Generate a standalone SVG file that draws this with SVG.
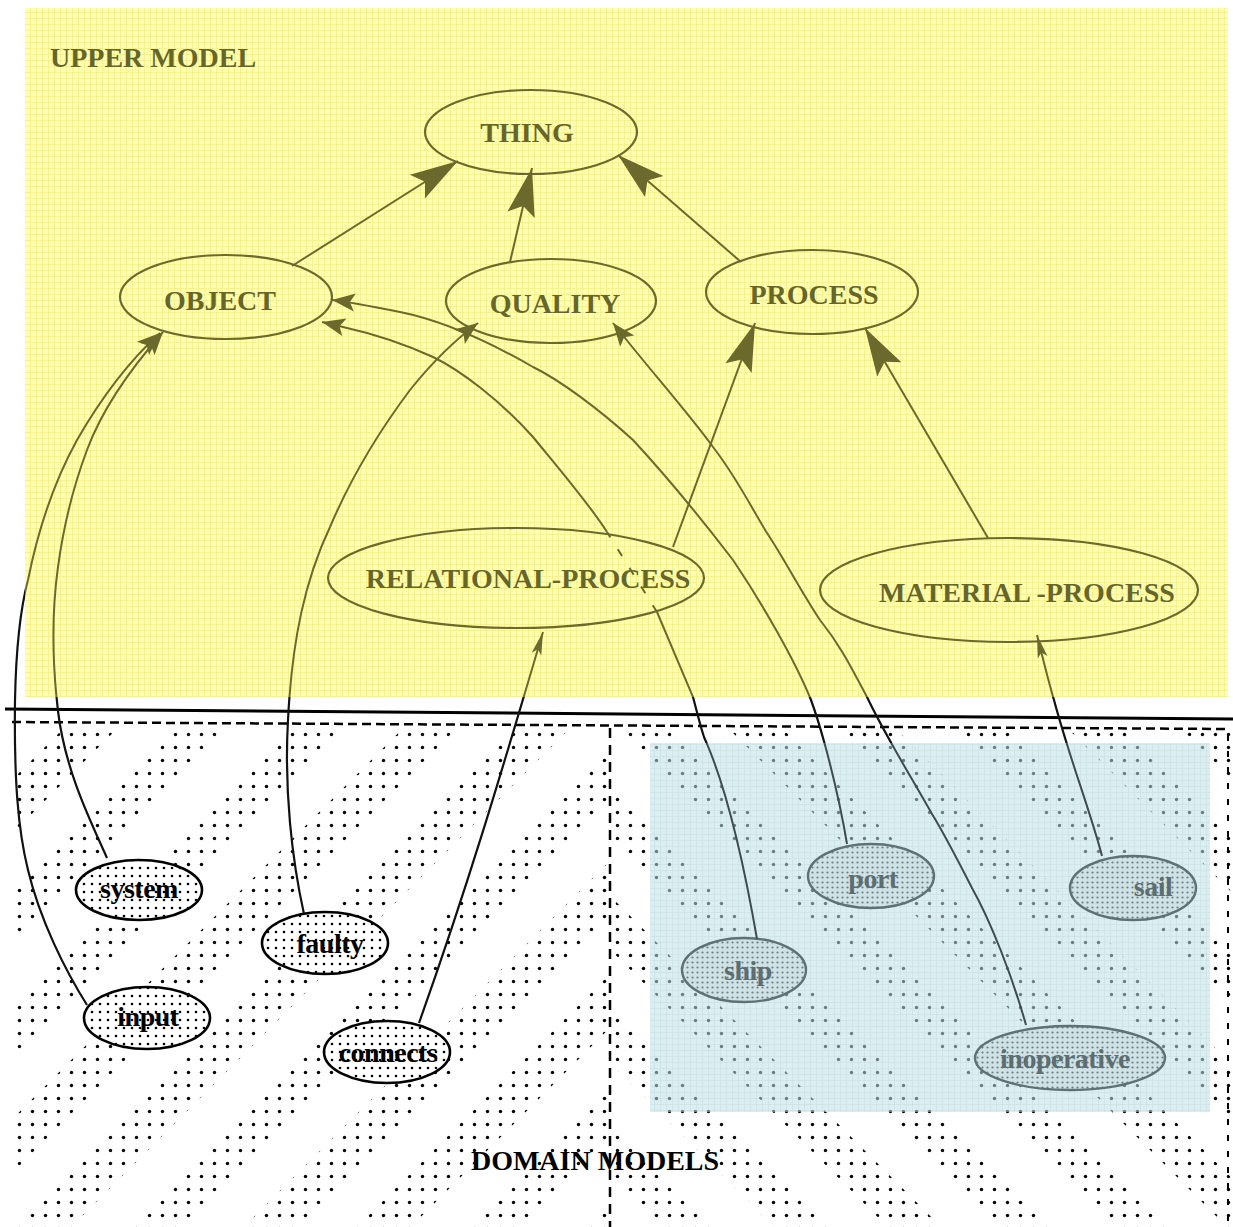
<svg xmlns="http://www.w3.org/2000/svg" xmlns:xlink="http://www.w3.org/1999/xlink" width="1233" height="1227" viewBox="0 0 1233 1227">
<style>
  .t { font-family: "Liberation Serif", "DejaVu Serif", serif; font-weight: bold; font-size: 28px; text-anchor: middle; }
  .up { fill: #66662a; }
  .lo { fill: #000; letter-spacing: -0.5px; }
  .bl { fill: #5d6e72; letter-spacing: -0.5px; }
  .eu { fill: none; stroke: #6b6a2c; stroke-width: 2.2; }
  .el { fill: url(#dotfill); stroke: #000; stroke-width: 2.6; }
  .eb { fill: url(#dotfillB); stroke: #5f7174; stroke-width: 2.4; }
  .cu { fill: none; stroke: #6b6a2c; stroke-width: 2; }
  .cl { fill: none; stroke: #111; stroke-width: 2.2; }
  .cb { fill: none; stroke: #3e4c4f; stroke-width: 2; }
</style>
<defs>
  <pattern id="ygrid" width="6" height="6" patternUnits="userSpaceOnUse">
    <rect width="6" height="6" fill="#fefdb2"/>
    <path d="M0,0.4H6M0.4,0V6" stroke="#f3ee7e" stroke-width="0.8"/>
  </pattern>
  <pattern id="bgrid" width="6" height="6" patternUnits="userSpaceOnUse">
    <rect width="6" height="6" fill="#ddeef1"/>
    <path d="M0,0.4H6M0.4,0V6" stroke="#c9e1e5" stroke-width="0.8"/>
  </pattern>
  <pattern id="dotgrid" width="13" height="13" patternUnits="userSpaceOnUse">
    <circle cx="6.5" cy="6.5" r="1.7" fill="#000"/>
  </pattern>
  <pattern id="dotgridG" width="13" height="13" patternUnits="userSpaceOnUse">
    <circle cx="6.5" cy="6.5" r="1.7" fill="#6c7d80"/>
  </pattern>
  <pattern id="dotfill" width="8" height="8" patternUnits="userSpaceOnUse">
    <rect width="8" height="8" fill="#fff"/>
    <circle cx="4" cy="4" r="1.3" fill="#000"/>
  </pattern>
  <pattern id="dotfillB" width="5" height="5" patternUnits="userSpaceOnUse">
    <rect width="5" height="5" fill="#cfe2e5"/>
    <circle cx="2.5" cy="2.5" r="1.1" fill="#6f8084"/>
  </pattern>
  <pattern id="stripeL" width="80" height="80" patternUnits="userSpaceOnUse" patternTransform="rotate(45)">
    <rect width="38" height="80" fill="#fff"/>
  </pattern>
  <pattern id="stripeR" width="80" height="80" patternUnits="userSpaceOnUse" patternTransform="rotate(-45)">
    <rect width="38" height="80" fill="#fff"/>
  </pattern>
  <mask id="mL"><rect x="12" y="731" width="598" height="496" fill="url(#stripeL)"/></mask>
  <mask id="mR"><rect x="610" y="731" width="623" height="496" fill="url(#stripeR)"/></mask>
  <clipPath id="clipU"><rect x="25" y="8" width="1203" height="689"/></clipPath>
  <clipPath id="clipB"><rect x="650" y="743" width="560" height="369"/></clipPath>
  <clipPath id="clipW"><path clip-rule="evenodd" d="M0,0H1233V1227H0Z M25,8H1228V697H25Z M650,743H1210V1112H650Z"/></clipPath>
  <marker id="aBig" markerUnits="userSpaceOnUse" markerWidth="52" markerHeight="30" refX="50" refY="15" orient="auto" overflow="visible">
    <path d="M50,15 L2,1 L11,15 L2,29 Z" fill="#6b6a2c"/>
  </marker>
  <marker id="aSmall" markerUnits="userSpaceOnUse" markerWidth="26" markerHeight="20" refX="24" refY="10" orient="auto" overflow="visible">
    <path d="M24,10 L1,1 L6,10 L1,19 Z" fill="#6b6a2c"/>
  </marker>
  <marker id="aThin" markerUnits="userSpaceOnUse" markerWidth="26" markerHeight="14" refX="24" refY="7" orient="auto" overflow="visible">
    <path d="M24,7 L1,2 L6,7 L1,12 Z" fill="#6b6a2c"/>
  </marker>
  <path id="p-obj-thing" d="M292,266 L458,161"/>
  <path id="p-qual-thing" d="M510,262 L532,168"/>
  <path id="p-proc-thing" d="M741,262 L618,155"/>
  <path id="p-rel-proc" d="M673,547 L755,323"/>
  <path id="p-mat-proc" d="M988,538 L865,328"/>
  <path id="p-system" d="M107,858 C90,820 65,770 58,711 C52,660 52,610 58,567 C63,530 72,490 87,450 C100,415 125,375 163,332"/>
  <path id="p-input" d="M87,1005 C65,970 40,920 28,870 C18,830 14,780 15,700 C16,650 20,610 28,580 C38,530 55,480 77,440 C100,400 128,362 160,333"/>
  <path id="p-faulty" d="M304,914 C292,860 284,790 288,720 C292,640 305,580 330,527 C350,480 380,430 410,390 C430,365 455,340 478,323"/>
  <path id="p-connects" d="M419,1023 C470,880 505,760 543,632"/>
  <path id="p-ship-a" d="M757,939 C745,870 728,790 704,737 C700,725 697,712 693,697 L657,612"/>
  <path id="p-ship-b" d="M607,532 C590,505 560,470 533,437 C500,400 460,370 433,357 C400,342 370,333 343,327 L322,322"/>
  <path id="p-ship-dash" d="M657,612 L607,532"/>
  <path id="p-port" d="M847,844 C838,790 822,730 811,700 C795,660 760,600 733,560 C710,530 670,480 633,440 C600,410 560,380 533,367 C500,348 450,322 400,312 C375,307 350,302 332,300"/>
  <path id="p-inop" d="M1026,1025 C1012,975 990,920 972,888 C955,855 945,835 932,814 C910,775 885,735 867,697 C850,665 840,645 820,620 C800,590 785,560 767,533 C750,505 735,475 713,447 C690,415 650,370 613,323"/>
  <path id="p-sail" d="M1102,856 C1090,810 1070,760 1054,700 C1048,680 1042,655 1037,635"/>
</defs>

<!-- backgrounds -->
<rect width="1233" height="1227" fill="#fff"/>
<rect x="25" y="8" width="1203" height="689" fill="url(#ygrid)"/>
<rect x="12" y="731" width="598" height="496" fill="url(#dotgrid)" mask="url(#mL)"/>
<rect x="610" y="731" width="623" height="496" fill="url(#dotgrid)" mask="url(#mR)"/>
<rect x="650" y="743" width="560" height="369" fill="url(#bgrid)"/>
<g clip-path="url(#clipB)">
  <rect x="610" y="731" width="623" height="496" fill="url(#dotgridG)" mask="url(#mR)"/>
</g>

<!-- separators -->
<g id="separators" stroke="#000">
  <line x1="5" y1="709" x2="1233" y2="719" stroke-width="3"/>
  <line x1="12" y1="722" x2="1230" y2="729" stroke-width="2.5" stroke-dasharray="9 5"/>
  <line x1="610" y1="728" x2="610" y2="1227" stroke-width="2.5" stroke-dasharray="10 7"/>
  <line x1="1228" y1="735" x2="1228" y2="1227" stroke-width="2" stroke-dasharray="6 10"/>
</g>

<text x="50" y="67" class="t up" style="text-anchor:start">UPPER MODEL</text>
<text x="595" y="1170" class="t" fill="#000">DOMAIN MODELS</text>

<!-- upper model nodes -->
<g id="node-thing"><ellipse cx="531" cy="132" rx="106" ry="42" class="eu"/><text x="527" y="142" class="t up">THING</text></g>
<g id="node-object"><ellipse cx="226" cy="297" rx="106" ry="42" class="eu"/><text x="220" y="310" class="t up">OBJECT</text></g>
<g id="node-quality"><ellipse cx="551" cy="301" rx="105" ry="42" class="eu"/><text x="555" y="313" class="t up">QUALITY</text></g>
<g id="node-process"><ellipse cx="812" cy="292" rx="106" ry="42" class="eu"/><text x="814" y="304" class="t up">PROCESS</text></g>
<g id="node-relational-process"><ellipse cx="516" cy="578" rx="188" ry="50" class="eu"/><text x="528" y="588" class="t up">RELATIONAL-PROCESS</text></g>
<g id="node-material-process"><ellipse cx="1009" cy="590" rx="189" ry="52" class="eu"/><text x="1027" y="602" class="t up">MATERIAL -PROCESS</text></g>

<!-- domain model nodes -->
<g id="node-system"><ellipse cx="139" cy="890" rx="63" ry="30" class="el"/><text x="139" y="898" class="t lo">system</text></g>
<g id="node-faulty"><ellipse cx="325" cy="943" rx="63" ry="31" class="el"/><text x="330" y="953" class="t lo">faulty</text></g>
<g id="node-input"><ellipse cx="147" cy="1018" rx="63" ry="31" class="el"/><text x="148" y="1026" class="t lo">input</text></g>
<g id="node-connects"><ellipse cx="387" cy="1052" rx="63" ry="31" class="el"/><text x="388" y="1062" class="t lo">connects</text></g>
<g id="node-port"><ellipse cx="871" cy="876" rx="63" ry="32" class="eb"/><text x="873" y="888" class="t bl">port</text></g>
<g id="node-sail"><ellipse cx="1133" cy="888" rx="63" ry="32" class="eb"/><text x="1153" y="896" class="t bl">sail</text></g>
<g id="node-ship"><ellipse cx="744" cy="970" rx="62" ry="32" class="eb"/><text x="748" y="980" class="t bl">ship</text></g>
<g id="node-inoperative"><ellipse cx="1070" cy="1058" rx="95" ry="32" class="eb"/><text x="1065" y="1068" class="t bl">inoperative</text></g>

<!-- connectors -->
<g id="connectors">
  <g clip-path="url(#clipU)" class="cu">
    <use xlink:href="#p-obj-thing" marker-end="url(#aBig)"/>
    <use xlink:href="#p-qual-thing" marker-end="url(#aBig)"/>
    <use xlink:href="#p-proc-thing" marker-end="url(#aBig)"/>
    <use xlink:href="#p-rel-proc" marker-end="url(#aBig)"/>
    <use xlink:href="#p-mat-proc" marker-end="url(#aBig)"/>
    <use xlink:href="#p-system" marker-end="url(#aSmall)"/>
    <use xlink:href="#p-input" marker-end="url(#aSmall)"/>
    <use xlink:href="#p-faulty" marker-end="url(#aSmall)"/>
    <use xlink:href="#p-connects" marker-end="url(#aThin)"/>
    <use xlink:href="#p-ship-a"/>
    <use xlink:href="#p-ship-dash" stroke-dasharray="8 14"/>
    <use xlink:href="#p-ship-b" marker-end="url(#aSmall)"/>
    <use xlink:href="#p-port" marker-end="url(#aSmall)"/>
    <use xlink:href="#p-inop" marker-end="url(#aSmall)"/>
    <use xlink:href="#p-sail" marker-end="url(#aThin)"/>
  </g>
  <g clip-path="url(#clipW)" class="cl">
    <use xlink:href="#p-system"/>
    <use xlink:href="#p-input"/>
    <use xlink:href="#p-faulty"/>
    <use xlink:href="#p-connects"/>
    <use xlink:href="#p-ship-a"/>
    <use xlink:href="#p-port"/>
    <use xlink:href="#p-inop"/>
    <use xlink:href="#p-sail"/>
  </g>
  <g clip-path="url(#clipB)" class="cb">
    <use xlink:href="#p-ship-a"/>
    <use xlink:href="#p-port"/>
    <use xlink:href="#p-inop"/>
    <use xlink:href="#p-sail"/>
  </g>
</g>
</svg>
